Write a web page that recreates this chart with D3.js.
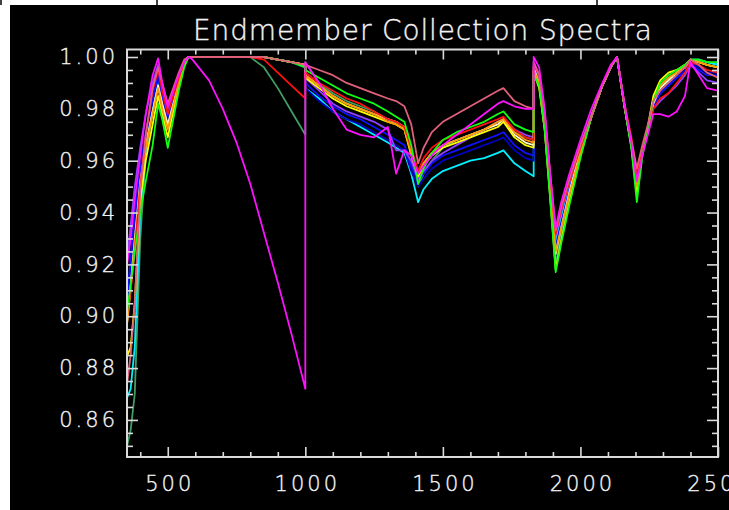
<!DOCTYPE html>
<html>
<head>
<meta charset="utf-8">
<script src="https://cdn.jsdelivr.net/npm/d3@7"></script>
<style>
  html, body { margin: 0; padding: 0; background: #ffffff; }
  svg { display: block; }
  .lbl { font-family: "DejaVu Sans", sans-serif; font-weight: 200; fill: #f4f4f4; stroke: #f4f4f4; stroke-width: 0.35px; }
</style>
</head>
<body>
<svg id="chart" width="729" height="510"></svg>
<script>
// Wavelength samples (nm); 1000 and 1830 appear twice where the detector segments join.
const wavelengths = [
  350, 365, 380, 400, 420, 445, 465, 480, 500, 520,
  540, 560, 575, 590, 650, 700, 750, 800, 850, 900,
  950, 1000, 1000, 1050, 1100, 1150, 1200, 1250, 1300, 1330,
  1360, 1385, 1410, 1430, 1460, 1500, 1550, 1600, 1650, 1700,
  1720, 1760, 1800, 1830, 1830, 1850, 1870, 1890, 1910, 1930,
  1960, 2000, 2040, 2080, 2110, 2133, 2160, 2185, 2205, 2225,
  2245, 2265, 2290, 2320, 2350, 2380, 2400, 2430, 2460, 2500
];

// Continuum-removed reflectance of each endmember
const emSeaGreen = [
  0.849, 0.856, 0.870, 0.930, 0.962, 0.979, 0.990, 0.982, 0.973, 0.981,
  0.990, 0.997, 1.000, 1.000, 1.000, 1.000, 1.000, 1.000, 0.996, 0.988,
  0.979, 0.970, 0.998, 0.990, 0.986, 0.983, 0.981, 0.979, 0.976, 0.974,
  0.972, 0.963, 0.950, 0.955, 0.960, 0.965, 0.968, 0.970, 0.972, 0.975,
  0.976, 0.971, 0.969, 0.968, 0.994, 0.989, 0.972, 0.946, 0.920, 0.931,
  0.945, 0.962, 0.977, 0.989, 0.996, 1.000, 0.981, 0.965, 0.946, 0.962,
  0.972, 0.983, 0.989, 0.992, 0.994, 0.996, 0.999, 0.999, 0.998, 0.997
];
const emCyan = [
  0.868, 0.872, 0.888, 0.940, 0.965, 0.980, 0.990, 0.984, 0.977, 0.984,
  0.991, 0.998, 1.000, 1.000, 1.000, 1.000, 1.000, 1.000, 1.000, 0.999,
  0.998, 0.996, 0.988, 0.984, 0.979, 0.976, 0.973, 0.970, 0.967, 0.965,
  0.963, 0.955, 0.944, 0.949, 0.953, 0.956, 0.958, 0.960, 0.961, 0.963,
  0.964, 0.959, 0.956, 0.954, 0.995, 0.990, 0.975, 0.950, 0.929, 0.938,
  0.950, 0.965, 0.977, 0.989, 0.996, 1.000, 0.981, 0.966, 0.948, 0.963,
  0.972, 0.983, 0.988, 0.991, 0.994, 0.996, 0.999, 0.999, 0.998, 0.997
];
const emNavy = [
  0.900, 0.918, 0.937, 0.955, 0.969, 0.983, 0.992, 0.984, 0.976, 0.983,
  0.991, 0.997, 1.000, 1.000, 1.000, 1.000, 1.000, 1.000, 1.000, 0.999,
  0.998, 0.996, 0.988, 0.983, 0.979, 0.976, 0.974, 0.971, 0.968, 0.966,
  0.964, 0.956, 0.950, 0.953, 0.957, 0.960, 0.962, 0.964, 0.966, 0.968,
  0.969, 0.964, 0.961, 0.960, 0.996, 0.991, 0.976, 0.950, 0.926, 0.935,
  0.948, 0.963, 0.977, 0.989, 0.996, 1.000, 0.981, 0.966, 0.950, 0.963,
  0.971, 0.981, 0.986, 0.989, 0.992, 0.995, 0.998, 0.996, 0.994, 0.994
];
const emBlue = [
  0.905, 0.922, 0.940, 0.957, 0.971, 0.984, 0.993, 0.985, 0.977, 0.984,
  0.991, 0.998, 1.000, 1.000, 1.000, 1.000, 1.000, 1.000, 1.000, 0.999,
  0.998, 0.997, 0.990, 0.985, 0.981, 0.978, 0.976, 0.973, 0.970, 0.968,
  0.966, 0.958, 0.952, 0.955, 0.959, 0.962, 0.964, 0.966, 0.968, 0.970,
  0.971, 0.966, 0.963, 0.962, 0.997, 0.992, 0.977, 0.951, 0.927, 0.936,
  0.949, 0.964, 0.977, 0.989, 0.996, 1.000, 0.981, 0.966, 0.950, 0.963,
  0.971, 0.981, 0.986, 0.989, 0.992, 0.994, 0.997, 0.995, 0.993, 0.993
];
const emViolet = [
  0.920, 0.935, 0.950, 0.965, 0.978, 0.990, 0.997, 0.989, 0.980, 0.986,
  0.992, 0.998, 1.000, 1.000, 1.000, 1.000, 1.000, 1.000, 1.000, 0.999,
  0.998, 0.997, 0.992, 0.987, 0.982, 0.979, 0.977, 0.975, 0.972, 0.964,
  0.964, 0.960, 0.953, 0.956, 0.960, 0.963, 0.966, 0.969, 0.972, 0.975,
  0.976, 0.972, 0.970, 0.969, 0.998, 0.993, 0.979, 0.953, 0.931, 0.940,
  0.952, 0.966, 0.978, 0.989, 0.996, 1.000, 0.982, 0.967, 0.952, 0.963,
  0.971, 0.980, 0.983, 0.986, 0.989, 0.993, 0.997, 0.994, 0.991, 0.990
];
const emWhite = [
  0.895, 0.912, 0.930, 0.952, 0.966, 0.979, 0.989, 0.982, 0.974, 0.982,
  0.990, 0.998, 1.000, 1.000, 1.000, 1.000, 1.000, 1.000, 1.000, 0.999,
  0.998, 0.997, 0.993, 0.989, 0.985, 0.982, 0.980, 0.978, 0.976, 0.975,
  0.973, 0.964, 0.955, 0.959, 0.963, 0.966, 0.968, 0.970, 0.972, 0.974,
  0.976, 0.970, 0.967, 0.966, 0.996, 0.990, 0.976, 0.950, 0.924, 0.934,
  0.948, 0.964, 0.977, 0.989, 0.996, 1.000, 0.981, 0.966, 0.949, 0.964,
  0.972, 0.982, 0.988, 0.991, 0.994, 0.996, 0.999, 0.998, 0.997, 0.996
];
const emYellow = [
  0.884, 0.888, 0.905, 0.945, 0.960, 0.974, 0.985, 0.978, 0.969, 0.979,
  0.989, 0.997, 1.000, 1.000, 1.000, 1.000, 1.000, 1.000, 1.000, 0.999,
  0.998, 0.997, 0.992, 0.988, 0.984, 0.981, 0.979, 0.977, 0.975, 0.974,
  0.972, 0.962, 0.954, 0.958, 0.962, 0.965, 0.967, 0.969, 0.971, 0.973,
  0.975, 0.969, 0.966, 0.965, 0.994, 0.988, 0.972, 0.946, 0.918, 0.929,
  0.944, 0.962, 0.977, 0.989, 0.996, 1.000, 0.981, 0.966, 0.948, 0.964,
  0.973, 0.985, 0.991, 0.994, 0.995, 0.997, 0.999, 0.998, 0.997, 0.996
];
const emOrange = [
  0.895, 0.910, 0.928, 0.950, 0.965, 0.978, 0.988, 0.980, 0.972, 0.981,
  0.990, 0.997, 1.000, 1.000, 1.000, 1.000, 1.000, 1.000, 1.000, 0.999,
  0.998, 0.997, 0.993, 0.989, 0.985, 0.982, 0.980, 0.978, 0.975, 0.974,
  0.972, 0.963, 0.955, 0.959, 0.963, 0.966, 0.968, 0.970, 0.972, 0.975,
  0.976, 0.971, 0.968, 0.967, 0.995, 0.990, 0.975, 0.949, 0.925, 0.934,
  0.947, 0.963, 0.977, 0.989, 0.996, 1.000, 0.981, 0.966, 0.950, 0.964,
  0.972, 0.983, 0.989, 0.992, 0.994, 0.996, 0.999, 0.998, 0.997, 0.996
];
const emRed = [
  0.900, 0.910, 0.925, 0.950, 0.970, 0.987, 0.995, 0.987, 0.978, 0.985,
  0.992, 0.998, 1.000, 1.000, 1.000, 1.000, 1.000, 1.000, 0.999, 0.994,
  0.989, 0.984, 0.994, 0.990, 0.987, 0.984, 0.982, 0.979, 0.976, 0.975,
  0.973, 0.965, 0.956, 0.961, 0.965, 0.968, 0.970, 0.972, 0.974, 0.976,
  0.977, 0.972, 0.969, 0.968, 0.997, 0.993, 0.978, 0.954, 0.932, 0.941,
  0.952, 0.965, 0.977, 0.989, 0.996, 1.000, 0.982, 0.969, 0.955, 0.965,
  0.972, 0.980, 0.984, 0.986, 0.990, 0.994, 0.998, 0.997, 0.995, 0.994
];
const emLime = [
  0.900, 0.912, 0.925, 0.940, 0.952, 0.966, 0.982, 0.976, 0.965, 0.976,
  0.987, 0.996, 1.000, 1.000, 1.000, 1.000, 1.000, 1.000, 1.000, 0.999,
  0.998, 0.996, 0.995, 0.992, 0.989, 0.986, 0.984, 0.982, 0.979, 0.977,
  0.975, 0.966, 0.951, 0.957, 0.963, 0.968, 0.971, 0.973, 0.975, 0.978,
  0.979, 0.974, 0.972, 0.971, 0.993, 0.989, 0.972, 0.945, 0.917, 0.928,
  0.943, 0.961, 0.977, 0.989, 0.996, 1.000, 0.981, 0.965, 0.944, 0.962,
  0.972, 0.983, 0.990, 0.993, 0.995, 0.997, 0.999, 0.999, 0.998, 0.998
];
const emSalmon = [
  0.872, 0.885, 0.905, 0.948, 0.970, 0.988, 0.996, 0.990, 0.982, 0.988,
  0.994, 0.999, 1.000, 1.000, 1.000, 1.000, 1.000, 1.000, 1.000, 0.999,
  0.998, 0.997, 0.997, 0.995, 0.993, 0.990, 0.988, 0.986, 0.984, 0.983,
  0.981, 0.974, 0.959, 0.965, 0.971, 0.975, 0.978, 0.981, 0.984, 0.987,
  0.988, 0.983, 0.981, 0.980, 0.998, 0.993, 0.978, 0.955, 0.933, 0.942,
  0.953, 0.966, 0.977, 0.989, 0.996, 1.000, 0.981, 0.968, 0.957, 0.966,
  0.974, 0.983, 0.987, 0.990, 0.993, 0.996, 0.999, 0.997, 0.994, 0.992
];
const emMagenta = [
  0.918, 0.930, 0.945, 0.962, 0.978, 0.993, 0.9995, 0.990, 0.981, 0.987,
  0.993, 0.998, 1.000, 0.999, 0.991, 0.980, 0.967, 0.951, 0.932, 0.913,
  0.893, 0.872, 0.998, 0.990, 0.980, 0.972, 0.970, 0.969, 0.973, 0.955,
  0.964, 0.962, 0.955, 0.958, 0.962, 0.966, 0.970, 0.974, 0.978, 0.982,
  0.983, 0.981, 0.980, 0.980, 1.000, 0.996, 0.980, 0.955, 0.934, 0.944,
  0.955, 0.968, 0.980, 0.990, 0.997, 1.000, 0.982, 0.967, 0.952, 0.962,
  0.970, 0.978, 0.978, 0.977, 0.979, 0.985, 0.998, 0.993, 0.988, 0.987
];

// Drawing order: last one ends up on top
const spectra = [
  { id: "em01", color: "#3f9e62", values: emSeaGreen },
  { id: "em02", color: "#00f0ff", values: emCyan },
  { id: "em03", color: "#0000c0", values: emNavy },
  { id: "em04", color: "#1010ff", values: emBlue },
  { id: "em05", color: "#9040ff", values: emViolet },
  { id: "em06", color: "#fff6d0", values: emWhite },
  { id: "em07", color: "#ffff00", values: emYellow },
  { id: "em08", color: "#ff9a00", values: emOrange },
  { id: "em09", color: "#ff1010", values: emRed },
  { id: "em10", color: "#10ff10", values: emLime },
  { id: "em11", color: "#e0607a", values: emSalmon },
  { id: "em12", color: "#ff10ff", values: emMagenta }
];

const titleText = "Endmember Collection Spectra";
const xTickLabels = [500, 1000, 1500, 2000, 2500];
const yTickLabels = [0.86, 0.88, 0.90, 0.92, 0.94, 0.96, 0.98, 1.00];

const svg = d3.select("#chart");
const W = 729, H = 510;
const plot = { left: 127, right: 718, top: 49.5, bottom: 457 };
const axisColor = "#dadada";

// page frame: white margin along the top and left, black drawing area
svg.append("rect").attr("width", W).attr("height", H).attr("fill", "#ffffff");
svg.append("rect").attr("x", 10).attr("y", 5).attr("width", W - 10).attr("height", H - 5).attr("fill", "#000000");
[1, 157, 597].forEach(px => {
  svg.append("line").attr("x1", px).attr("x2", px).attr("y1", 0).attr("y2", 5)
    .attr("stroke", "#000").attr("stroke-width", 1.5);
});

const x = d3.scaleLinear().domain([350, 2500]).range([plot.left - 0.5, plot.right]);
const y = d3.scaleLinear().domain([0.8457, 1.0029]).range([plot.bottom, plot.top]);

svg.append("clipPath").attr("id", "plotClip")
  .append("rect").attr("x", plot.left).attr("y", plot.top)
  .attr("width", plot.right - plot.left).attr("height", plot.bottom - plot.top);

// spectra
const line = d3.line()
  .x((d, i) => x(wavelengths[i]))
  .y(d => y(d));

svg.append("g").attr("clip-path", "url(#plotClip)")
  .selectAll("path").data(spectra).join("path")
  .attr("d", s => line(s.values))
  .attr("fill", "none")
  .attr("stroke", s => s.color)
  .attr("stroke-width", 1.8)
  .attr("stroke-linejoin", "round");

// axes
const xMinor = d3.range(400, 2500, 100).filter(v => v % 500 !== 0);
const yMinor = d3.range(0, 31).map(i => +(0.85 + i * 0.005).toFixed(3))
  .filter(v => Math.round(v * 1000) % 20 !== 0);

function styleAxis(g) {
  g.select(".domain").remove();
  g.selectAll(".tick line").attr("stroke", axisColor).attr("stroke-width", 1.6);
}

svg.append("g").attr("transform", `translate(0,${plot.bottom})`)
  .call(d3.axisBottom(x).tickValues(xMinor).tickSize(-5).tickFormat(""))
  .call(styleAxis);
svg.append("g").attr("transform", `translate(0,${plot.bottom})`)
  .call(d3.axisBottom(x).tickValues(xTickLabels).tickSize(-10).tickPadding(19).tickFormat(d3.format("d")))
  .call(styleAxis)
  .call(g => g.selectAll("text").attr("class", "lbl").attr("font-size", 21)
    .style("letter-spacing", "3px").attr("dx", "1.5px"));

svg.append("g").attr("transform", `translate(0,${plot.top})`)
  .call(d3.axisTop(x).tickValues(xMinor).tickSize(-5).tickFormat(""))
  .call(styleAxis);
svg.append("g").attr("transform", `translate(0,${plot.top})`)
  .call(d3.axisTop(x).tickValues(xTickLabels).tickSize(-10).tickFormat(""))
  .call(styleAxis);

svg.append("g").attr("transform", `translate(${plot.left},0)`)
  .call(d3.axisLeft(y).tickValues(yMinor).tickSize(-6).tickFormat(""))
  .call(styleAxis);
svg.append("g").attr("transform", `translate(${plot.left},0)`)
  .call(d3.axisLeft(y).tickValues(yTickLabels).tickSize(-11).tickPadding(9).tickFormat(d3.format(".2f")))
  .call(styleAxis)
  .call(g => g.selectAll("text").attr("class", "lbl").attr("font-size", 21)
    .style("letter-spacing", "3px"));

svg.append("g").attr("transform", `translate(${plot.right},0)`)
  .call(d3.axisRight(y).tickValues(yMinor).tickSize(-6).tickFormat(""))
  .call(styleAxis);
svg.append("g").attr("transform", `translate(${plot.right},0)`)
  .call(d3.axisRight(y).tickValues(yTickLabels).tickSize(-11).tickFormat(""))
  .call(styleAxis);

// plot frame
svg.append("rect")
  .attr("x", plot.left).attr("y", plot.top)
  .attr("width", plot.right - plot.left).attr("height", plot.bottom - plot.top)
  .attr("fill", "none").attr("stroke", axisColor).attr("stroke-width", 2);

// title
svg.append("text")
  .attr("class", "lbl")
  .attr("x", 193).attr("y", 39.5)
  .attr("font-size", 28)
  .attr("textLength", 459)
  .attr("lengthAdjust", "spacing")
  .text(titleText);
</script>
</body>
</html>
